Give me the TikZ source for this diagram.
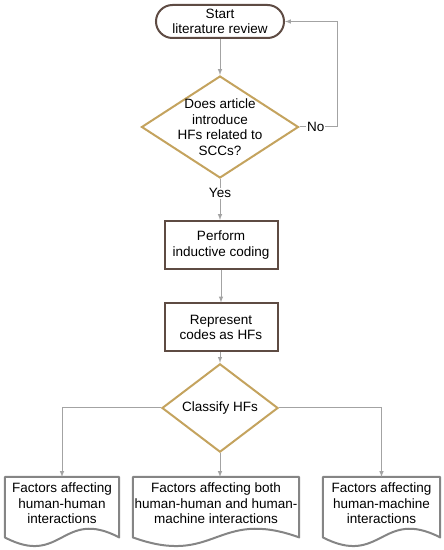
\documentclass[tikz,border=0pt]{standalone}
\usepackage{fontspec}
\setmainfont{Liberation Sans}
\usetikzlibrary{shapes.geometric,shapes.misc,calc}

\definecolor{boxbrown}{HTML}{5E4B43}
\definecolor{decgold}{HTML}{C4A35E}
\definecolor{docgray}{HTML}{858585}
\definecolor{linegray}{HTML}{A3A3A3}

\tikzset{
	every node/.style={font=\fontsize{13.5}{15.5}\selectfont, align=center},
	startbox/.style={rounded rectangle, draw=boxbrown, line width=2pt, minimum width=128pt, minimum height=33pt, inner sep=0pt},
	procbox/.style={rectangle, draw=boxbrown, line width=2pt, minimum width=113pt, minimum height=48pt, inner sep=0pt},
	decbox/.style={diamond, draw=decgold, line width=2pt, inner sep=0pt},
	docbox/.style={rectangle, anchor=north, minimum height=52pt, inner sep=0pt},
	docline/.style={draw=docgray, line width=2pt, line join=round},
	flow/.style={draw=linegray, line width=1pt, -latex},
	lbl/.style={fill=white, inner sep=1pt},
}

% outline of a document node, wavy bottom
\newcommand{\docoutline}[1]{%
	\draw[docline] (#1.north west) -- (#1.north east) -- ([yshift=-8pt]#1.south east)
		.. controls ([yshift=22pt]#1.south) and ([yshift=-38pt]#1.south) .. ([yshift=-8pt]#1.south west) -- cycle;}

\begin{document}
\begin{tikzpicture}[x=1pt, y=1pt]
	\useasboundingbox (0, 0) rectangle (444, 550);

	\node[startbox](start) at (220, 528.5){Start\\literature review};
	\node[decbox, minimum width=157pt, minimum height=102pt](dec1) at (220, 423){};
	\node[anchor=center](dec1txt) at (dec1.center){Does article\\introduce\\HFs related to\\SCCs?};
	\node[procbox](perform) at (221, 305){Perform\\inductive coding};
	\node[procbox](represent) at (221, 222.5){Represent\\codes as HFs};
	\node[decbox, minimum width=116pt, minimum height=60pt](classify) at (220, 142){Classify HFs};

	\node[docbox, minimum width=114pt](hh) at (62, 73){Factors affecting\\human-human\\interactions};
	\node[docbox, minimum width=166pt](both) at (216, 73){Factors affecting both\\human-human and human-\\machine interactions};
	\node[docbox, minimum width=117pt](hm) at (381.5, 73){Factors affecting\\human-machine\\interactions};
	\docoutline{hh}
	\docoutline{both}
	\docoutline{hm}

	\draw[flow] (start.south) -- (dec1.north);
	\draw[flow] (dec1.east) -- node[lbl, pos=0.43]{No} ++(38, 0) |- (start.east);
	\draw[flow] (dec1.south) -- node[lbl, pos=0.35]{Yes} (dec1.south |- perform.north);
	\draw[flow] (perform.south) -- (perform.south |- represent.north);
	\draw[flow] (represent.south) -- (classify.south |- represent.south) -- (classify.north);
	\draw[flow] (classify.west) -| (hh.north);
	\draw[flow] (classify.east) -| (hm.north);
	\draw[flow] (classify.south) -- (classify.south |- both.north);
\end{tikzpicture}
\end{document}
